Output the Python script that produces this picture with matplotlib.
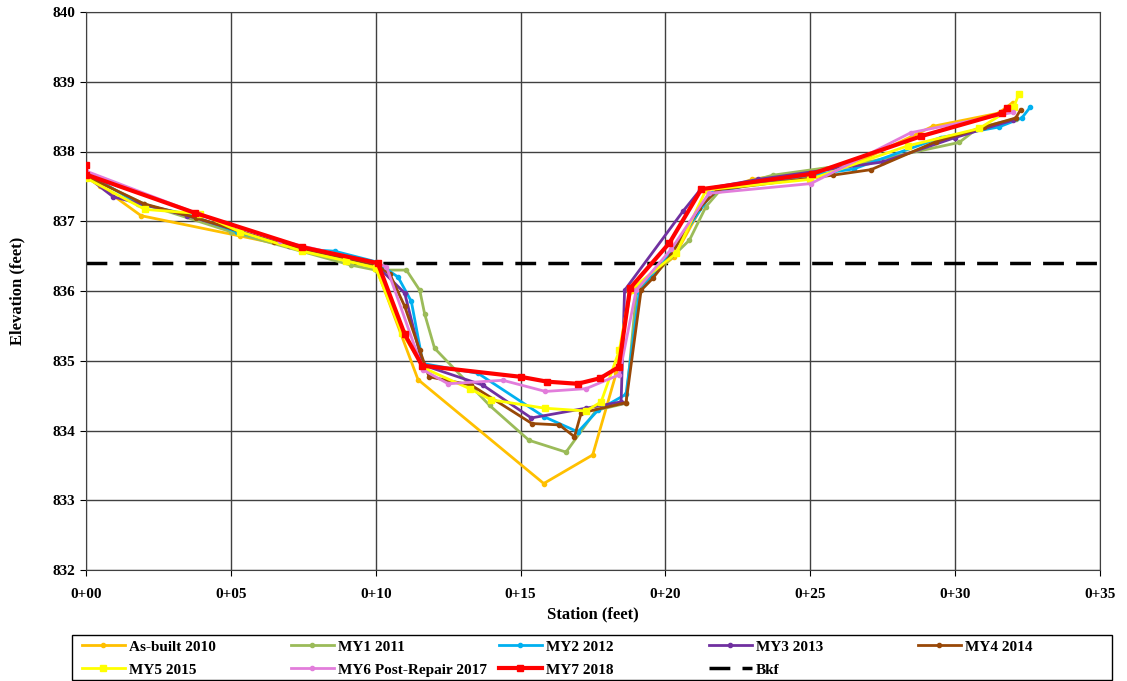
import matplotlib
matplotlib.use("Agg")
import matplotlib.pyplot as plt
from matplotlib.ticker import FuncFormatter, MultipleLocator
from matplotlib.patches import Rectangle

plt.rcParams['font.family'] = ['Liberation Serif', 'DejaVu Serif']
plt.rcParams['font.weight'] = 'bold'

# ---- data (station ft, elevation ft) ----
asbuilt_x = [0.0, 0.5, 1.9, 5.3, 7.5, 10.0, 11.46, 15.8, 17.49, 18.3, 18.8, 20.3, 21.5, 23.0, 26.5, 29.22, 31.5, 31.98]
asbuilt_y = [837.65, 837.5, 837.08, 836.79, 836.6, 836.35, 834.73, 833.24, 833.65, 834.82, 836.0, 836.49, 837.4, 837.6, 837.82, 838.36, 838.55, 838.7]

my1_x = [0.0, 2.0, 5.0, 9.16, 10.0, 11.06, 11.52, 11.69, 12.03, 13.93, 15.29, 16.57, 17.61, 18.64, 19.0, 20.83, 21.4, 21.9, 23.7, 27.0, 30.14, 30.8, 32.1]
my1_y = [837.65, 837.25, 836.85, 836.37, 836.3, 836.3, 836.01, 835.67, 835.18, 834.36, 833.86, 833.69, 834.29, 834.39, 835.99, 836.73, 837.21, 837.45, 837.66, 837.85, 838.13, 838.34, 838.47]

my2_x = [0.0, 1.8, 3.5, 5.2, 7.5, 8.59, 10.0, 10.77, 11.23, 11.63, 13.53, 15.8, 16.98, 17.67, 18.64, 19.1, 20.2, 21.6, 23.2, 26.5, 29.5, 31.5, 32.3, 32.6]
my2_y = [837.7, 837.25, 837.1, 836.85, 836.6, 836.57, 836.42, 836.2, 835.85, 834.96, 834.82, 834.2, 833.98, 834.29, 834.52, 835.99, 836.55, 837.4, 837.55, 837.75, 838.2, 838.35, 838.48, 838.64]

my3_x = [0.0, 0.94, 3.5, 7.0, 10.0, 11.0, 11.62, 13.7, 15.37, 17.26, 18.47, 18.59, 20.6, 21.2, 23.2, 27.5, 30.0, 32.0]
my3_y = [837.65, 837.35, 837.08, 836.65, 836.38, 835.97, 834.94, 834.65, 834.18, 834.32, 834.41, 836.01, 837.14, 837.45, 837.6, 837.85, 838.2, 838.45]

my4_x = [0.0, 2.0, 3.8, 6.5, 10.0, 10.48, 11.0, 11.52, 11.84, 13.3, 15.39, 16.34, 16.86, 17.09, 18.64, 19.16, 19.56, 20.2, 21.17, 21.8, 25.77, 27.1, 29.33, 31.0, 32.09, 32.26]
my4_y = [837.65, 837.25, 837.05, 836.7, 836.38, 836.25, 835.78, 835.15, 834.77, 834.65, 834.1, 834.08, 833.91, 834.25, 834.4, 836.01, 836.18, 836.52, 837.19, 837.45, 837.66, 837.74, 838.14, 838.35, 838.48, 838.6]

my5_x = [0.0, 2.03, 3.93, 5.31, 7.47, 8.99, 10.0, 10.9, 11.69, 13.24, 13.99, 15.83, 17.26, 17.78, 18.41, 18.78, 20.37, 21.4, 25.0, 28.36, 30.83, 32.03, 32.2]
my5_y = [837.62, 837.17, 837.11, 836.85, 836.57, 836.43, 836.33, 835.4, 834.89, 834.6, 834.44, 834.32, 834.28, 834.41, 835.15, 836.01, 836.54, 837.45, 837.6, 838.08, 838.33, 838.64, 838.83]

my6_x = [0.0, 3.9, 6.7, 10.0, 10.37, 11.63, 12.5, 14.39, 15.86, 17.26, 18.41, 18.99, 20.2, 21.5, 25.02, 28.47, 31.98]
my6_y = [837.72, 837.1, 836.72, 836.4, 836.35, 834.87, 834.67, 834.72, 834.56, 834.6, 834.8, 836.01, 836.6, 837.4, 837.54, 838.27, 838.56]

my7_x = [0.0, 0.0, 3.76, 7.45, 10.07, 11.0, 11.6, 15.0, 15.92, 16.97, 17.75, 18.39, 18.78, 20.14, 21.24, 25.07, 28.83, 31.62, 31.8]
my7_y = [837.8, 837.67, 837.12, 836.63, 836.40, 835.38, 834.93, 834.77, 834.70, 834.67, 834.75, 834.91, 836.04, 836.69, 837.46, 837.68, 838.22, 838.55, 838.62]

bkf_x = [0.0, 35.0]
bkf_y = [836.4, 836.4]

W, H = 1127, 681
fig = plt.figure(figsize=(W/100, H/100), dpi=100)
ax = fig.add_axes([86/W, 1-570/H, (1100-86)/W, (570-12)/H])

series = [
    (asbuilt_x, asbuilt_y, 'As-built 2010', '#FFC000', 'o', 2.0, 3),
    (my1_x, my1_y, 'MY1 2011', '#9BBB59', 'o', 2.0, 3),
    (my2_x, my2_y, 'MY2 2012', '#00B0F0', 'o', 2.0, 3),
    (my3_x, my3_y, 'MY3 2013', '#7030A0', 'o', 2.0, 3),
    (my4_x, my4_y, 'MY4 2014', '#984807', 'o', 2.0, 3),
    (my5_x, my5_y, 'MY5 2015', '#FFFF00', 's', 2.0, 4),
    (my6_x, my6_y, 'MY6 Post-Repair 2017', '#E27DDB', 'o', 2.0, 3),
    (my7_x, my7_y, 'MY7 2018', '#FF0000', 's', 3.0, 5),
]
handles = []
for xs, ys, lab, col, mk, lw, ms in series:
    h, = ax.plot(xs, ys, color=col, marker=mk, lw=lw, ms=ms, label=lab, zorder=3)
    handles.append(h)
hb, = ax.plot(bkf_x, bkf_y, color='black', lw=2.5, ls=(0, (6, 3.5)), label='Bkf', zorder=2)
handles.append(hb)

ax.set_xlim(0, 35)
ax.set_ylim(832, 840)
ax.xaxis.set_major_locator(MultipleLocator(5))
ax.yaxis.set_major_locator(MultipleLocator(1))
ax.xaxis.set_major_formatter(FuncFormatter(lambda v, p: f"{int(v)//100}+{int(v)%100:02d}"))
ax.yaxis.set_major_formatter(FuncFormatter(lambda v, p: f"{int(v)}"))
ax.grid(True, color='#404040', lw=1.0)
ax.set_axisbelow(True)
ax.tick_params(labelsize=11, length=4, direction='out')
ax.tick_params(axis='x', pad=9)
for lbl in ax.get_xticklabels() + ax.get_yticklabels():
    lbl.set_fontweight('bold')
for s in ax.spines.values():
    s.set_color('#404040')
ax.set_xlabel('Station (feet)', fontsize=12, fontweight='bold', labelpad=4)
ax.set_ylabel('Elevation (feet)', fontsize=12, fontweight='bold', labelpad=20)

# legend: 5 columns, row-major, uniform column spacing
col_px = [82, 291, 499, 709, 918]
for c in range(5):
    hs = [handles[c]] + ([handles[c + 5]] if c + 5 < len(handles) else [])
    fig.legend(handles=hs, labels=[h.get_label() for h in hs], loc='upper left',
               bbox_to_anchor=(col_px[c]/W, 1-640/H), frameon=False,
               prop={'size': 11, 'weight': 'bold', 'family': 'Liberation Serif'},
               handlelength=2.8, handletextpad=0.25, borderaxespad=0, borderpad=0,
               labelspacing=0.6)
fig.patches.append(Rectangle((72/W, 1-680/H), (1112-72)/W, (680-635)/H,
                             transform=fig.transFigure, fill=False,
                             edgecolor='black', lw=1.0))

fig.savefig('out.png', dpi=100)
